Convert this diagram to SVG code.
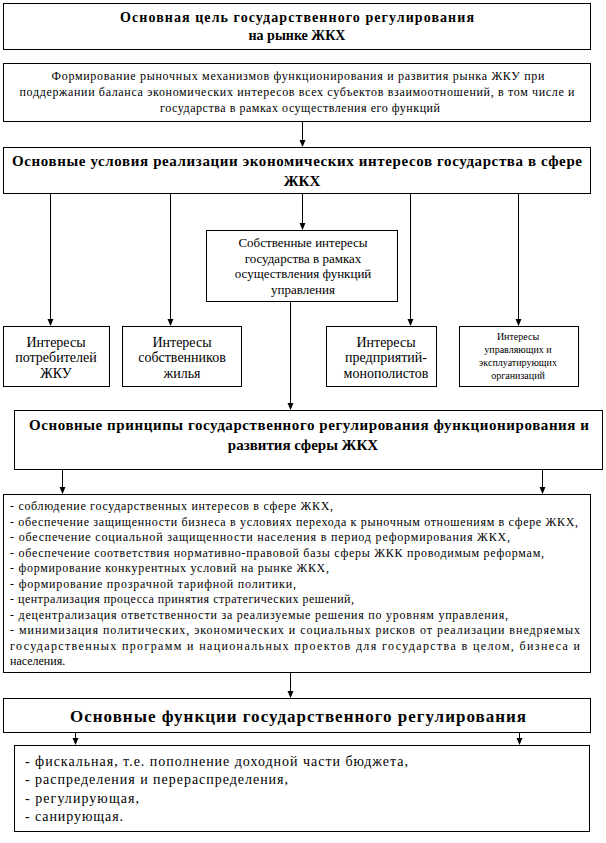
<svg xmlns="http://www.w3.org/2000/svg" width="606" height="843" viewBox="0 0 606 843">
<style>
rect{fill:#fff;stroke:#000;stroke-width:1}
text{fill:#000}
.t{font-weight:bold;font-size:15px;text-anchor:middle}
.n{font-size:12px;text-anchor:middle}
.s{font-size:14px;text-anchor:middle}
.l{font-size:12px}
.c line{stroke:#000;stroke-width:1}
.c polygon{fill:#000;stroke:none}
</style>
<rect x="0" y="0" width="606" height="843" style="stroke:none"/>
<g font-family="'Liberation Serif', 'DejaVu Serif', serif">
<g id="goal">
<rect x="3.5" y="3.5" width="587" height="46"/>
<text class="t" x="297" y="22" textLength="354" lengthAdjust="spacing" style="font-size:14px">Основная цель государственного регулирования</text>
<text class="t" x="297" y="40" style="font-size:14px">на рынке ЖКХ</text>
</g>
<g id="formation">
<rect x="3.5" y="63.5" width="587" height="58"/>
<text class="n" x="298" y="80" textLength="493" lengthAdjust="spacing">Формирование рыночных механизмов функционирования и развития рынка ЖКУ при</text>
<text class="n" x="297" y="96" textLength="555" lengthAdjust="spacing">поддержании баланса экономических интересов всех субъектов взаимоотношений, в том числе и</text>
<text class="n" x="300" y="112" textLength="280" lengthAdjust="spacing">государства в рамках осуществления его функций</text>
</g>
<g id="conditions">
<rect x="3.5" y="147.5" width="587" height="46"/>
<text class="t" x="297" y="166" textLength="570" lengthAdjust="spacing">Основные условия реализации экономических интересов государства в сфере</text>
<text class="t" x="302" y="186">ЖКХ</text>
</g>
<g id="own">
<rect x="206.5" y="230.5" width="191" height="71"/>
<text class="n" x="303" y="247" style="font-size:13px">Собственные интересы</text>
<text class="n" x="303" y="263" style="font-size:13px">государства в рамках</text>
<text class="n" x="303" y="278" style="font-size:13px">осуществления функций</text>
<text class="n" x="303" y="294" style="font-size:13px">управления</text>
</g>
<g id="consumers">
<rect x="3.5" y="326.5" width="106" height="60"/>
<text class="s" x="56" y="347">Интересы</text>
<text class="s" x="56" y="362">потребителей</text>
<text class="s" x="56" y="378">ЖКУ</text>
</g>
<g id="owners">
<rect x="122.5" y="326.5" width="119" height="60"/>
<text class="s" x="182" y="347">Интересы</text>
<text class="s" x="182" y="362">собственников</text>
<text class="s" x="182" y="378">жилья</text>
</g>
<g id="monopolists">
<rect x="326.5" y="326.5" width="110" height="60"/>
<text class="s" x="386" y="347">Интересы</text>
<text class="s" x="386" y="362">предприятий-</text>
<text class="s" x="386" y="378">монополистов</text>
</g>
<g id="managers">
<rect x="459.5" y="326.5" width="119" height="60"/>
<text class="n" x="518" y="340" style="font-size:10px">Интересы</text>
<text class="n" x="518" y="353" style="font-size:10px">управляющих и</text>
<text class="n" x="518" y="366" style="font-size:10px">эксплуатирующих</text>
<text class="n" x="518" y="379" style="font-size:10px">организаций</text>
</g>
<g id="principles">
<rect x="14.5" y="410.5" width="588" height="59"/>
<text class="t" x="309" y="430" textLength="560" lengthAdjust="spacing">Основные принципы государственного регулирования функционирования и</text>
<text class="t" x="303" y="450">развития сферы ЖКХ</text>
</g>
<g id="principles-list">
<rect x="3.5" y="494.5" width="587" height="178"/>
<text class="l" x="10" y="510" textLength="323" lengthAdjust="spacing">- соблюдение государственных интересов в  сфере ЖКХ,</text>
<text class="l" x="10" y="525.5" textLength="568" lengthAdjust="spacing">- обеспечение защищенности бизнеса в условиях перехода к рыночным отношениям в сфере ЖКХ,</text>
<text class="l" x="10" y="541" textLength="500" lengthAdjust="spacing">- обеспечение социальной защищенности населения в период реформирования ЖКХ,</text>
<text class="l" x="10" y="556.5" textLength="534" lengthAdjust="spacing">- обеспечение соответствия нормативно-правовой базы сферы ЖКК проводимым реформам,</text>
<text class="l" x="10" y="572" textLength="319" lengthAdjust="spacing">- формирование конкурентных условий на рынке ЖКХ,</text>
<text class="l" x="10" y="587.5" textLength="286" lengthAdjust="spacing">- формирование прозрачной  тарифной политики,</text>
<text class="l" x="10" y="603" textLength="344" lengthAdjust="spacing">- централизация процесса принятия стратегических решений,</text>
<text class="l" x="10" y="618.5" textLength="498" lengthAdjust="spacing">- децентрализация ответственности за реализуемые решения по уровням    управления,</text>
<text class="l" x="10" y="634" textLength="570" lengthAdjust="spacing">-  минимизация  политических,  экономических  и  социальных  рисков   от  реализации  внедряемых</text>
<text class="l" x="10" y="649.5" textLength="570" lengthAdjust="spacing">государственных  программ  и  национальных  проектов  для  государства  в  целом,  бизнеса  и</text>
<text class="l" x="10" y="665">населения.</text>
</g>
<g id="functions">
<rect x="3.5" y="698.5" width="587" height="34"/>
<text class="t" x="298" y="722" textLength="456" lengthAdjust="spacing" style="font-size:17px">Основные функции государственного регулирования</text>
</g>
<g id="functions-list">
<rect x="14.5" y="745.5" width="575" height="86"/>
<text class="l" x="25" y="766" textLength="383" lengthAdjust="spacing" style="font-size:14px">- фискальная, т.е.  пополнение доходной части бюджета,</text>
<text class="l" x="25" y="784" textLength="263" lengthAdjust="spacing" style="font-size:14px">- распределения и перераспределения,</text>
<text class="l" x="25" y="803" textLength="114" lengthAdjust="spacing" style="font-size:14px">- регулирующая,</text>
<text class="l" x="25" y="821" textLength="98" lengthAdjust="spacing" style="font-size:14px">- санирующая.</text>
</g>
</g>
<g id="connectors" class="c">
<line x1="302.5" y1="122" x2="302.5" y2="140"/>
<polygon points="299.5,140 305.5,140 302.5,147"/>
<line x1="50.5" y1="194" x2="50.5" y2="319"/>
<polygon points="47.5,319 53.5,319 50.5,326"/>
<line x1="170.5" y1="194" x2="170.5" y2="319"/>
<polygon points="167.5,319 173.5,319 170.5,326"/>
<line x1="302.5" y1="194" x2="302.5" y2="223"/>
<polygon points="299.5,223 305.5,223 302.5,230"/>
<line x1="410.5" y1="194" x2="410.5" y2="319"/>
<polygon points="407.5,319 413.5,319 410.5,326"/>
<line x1="518.5" y1="194" x2="518.5" y2="319"/>
<polygon points="515.5,319 521.5,319 518.5,326"/>
<line x1="290.5" y1="302" x2="290.5" y2="403"/>
<polygon points="287.5,403 293.5,403 290.5,410"/>
<line x1="62.5" y1="470" x2="62.5" y2="487"/>
<polygon points="59.5,487 65.5,487 62.5,494"/>
<line x1="542.5" y1="470" x2="542.5" y2="487"/>
<polygon points="539.5,487 545.5,487 542.5,494"/>
<line x1="290.5" y1="673" x2="290.5" y2="691"/>
<polygon points="287.5,691 293.5,691 290.5,698"/>
<line x1="75.5" y1="733" x2="75.5" y2="738"/>
<polygon points="72.5,738 78.5,738 75.5,745"/>
<line x1="519.5" y1="733" x2="519.5" y2="738"/>
<polygon points="516.5,738 522.5,738 519.5,745"/>
</g>
</svg>
